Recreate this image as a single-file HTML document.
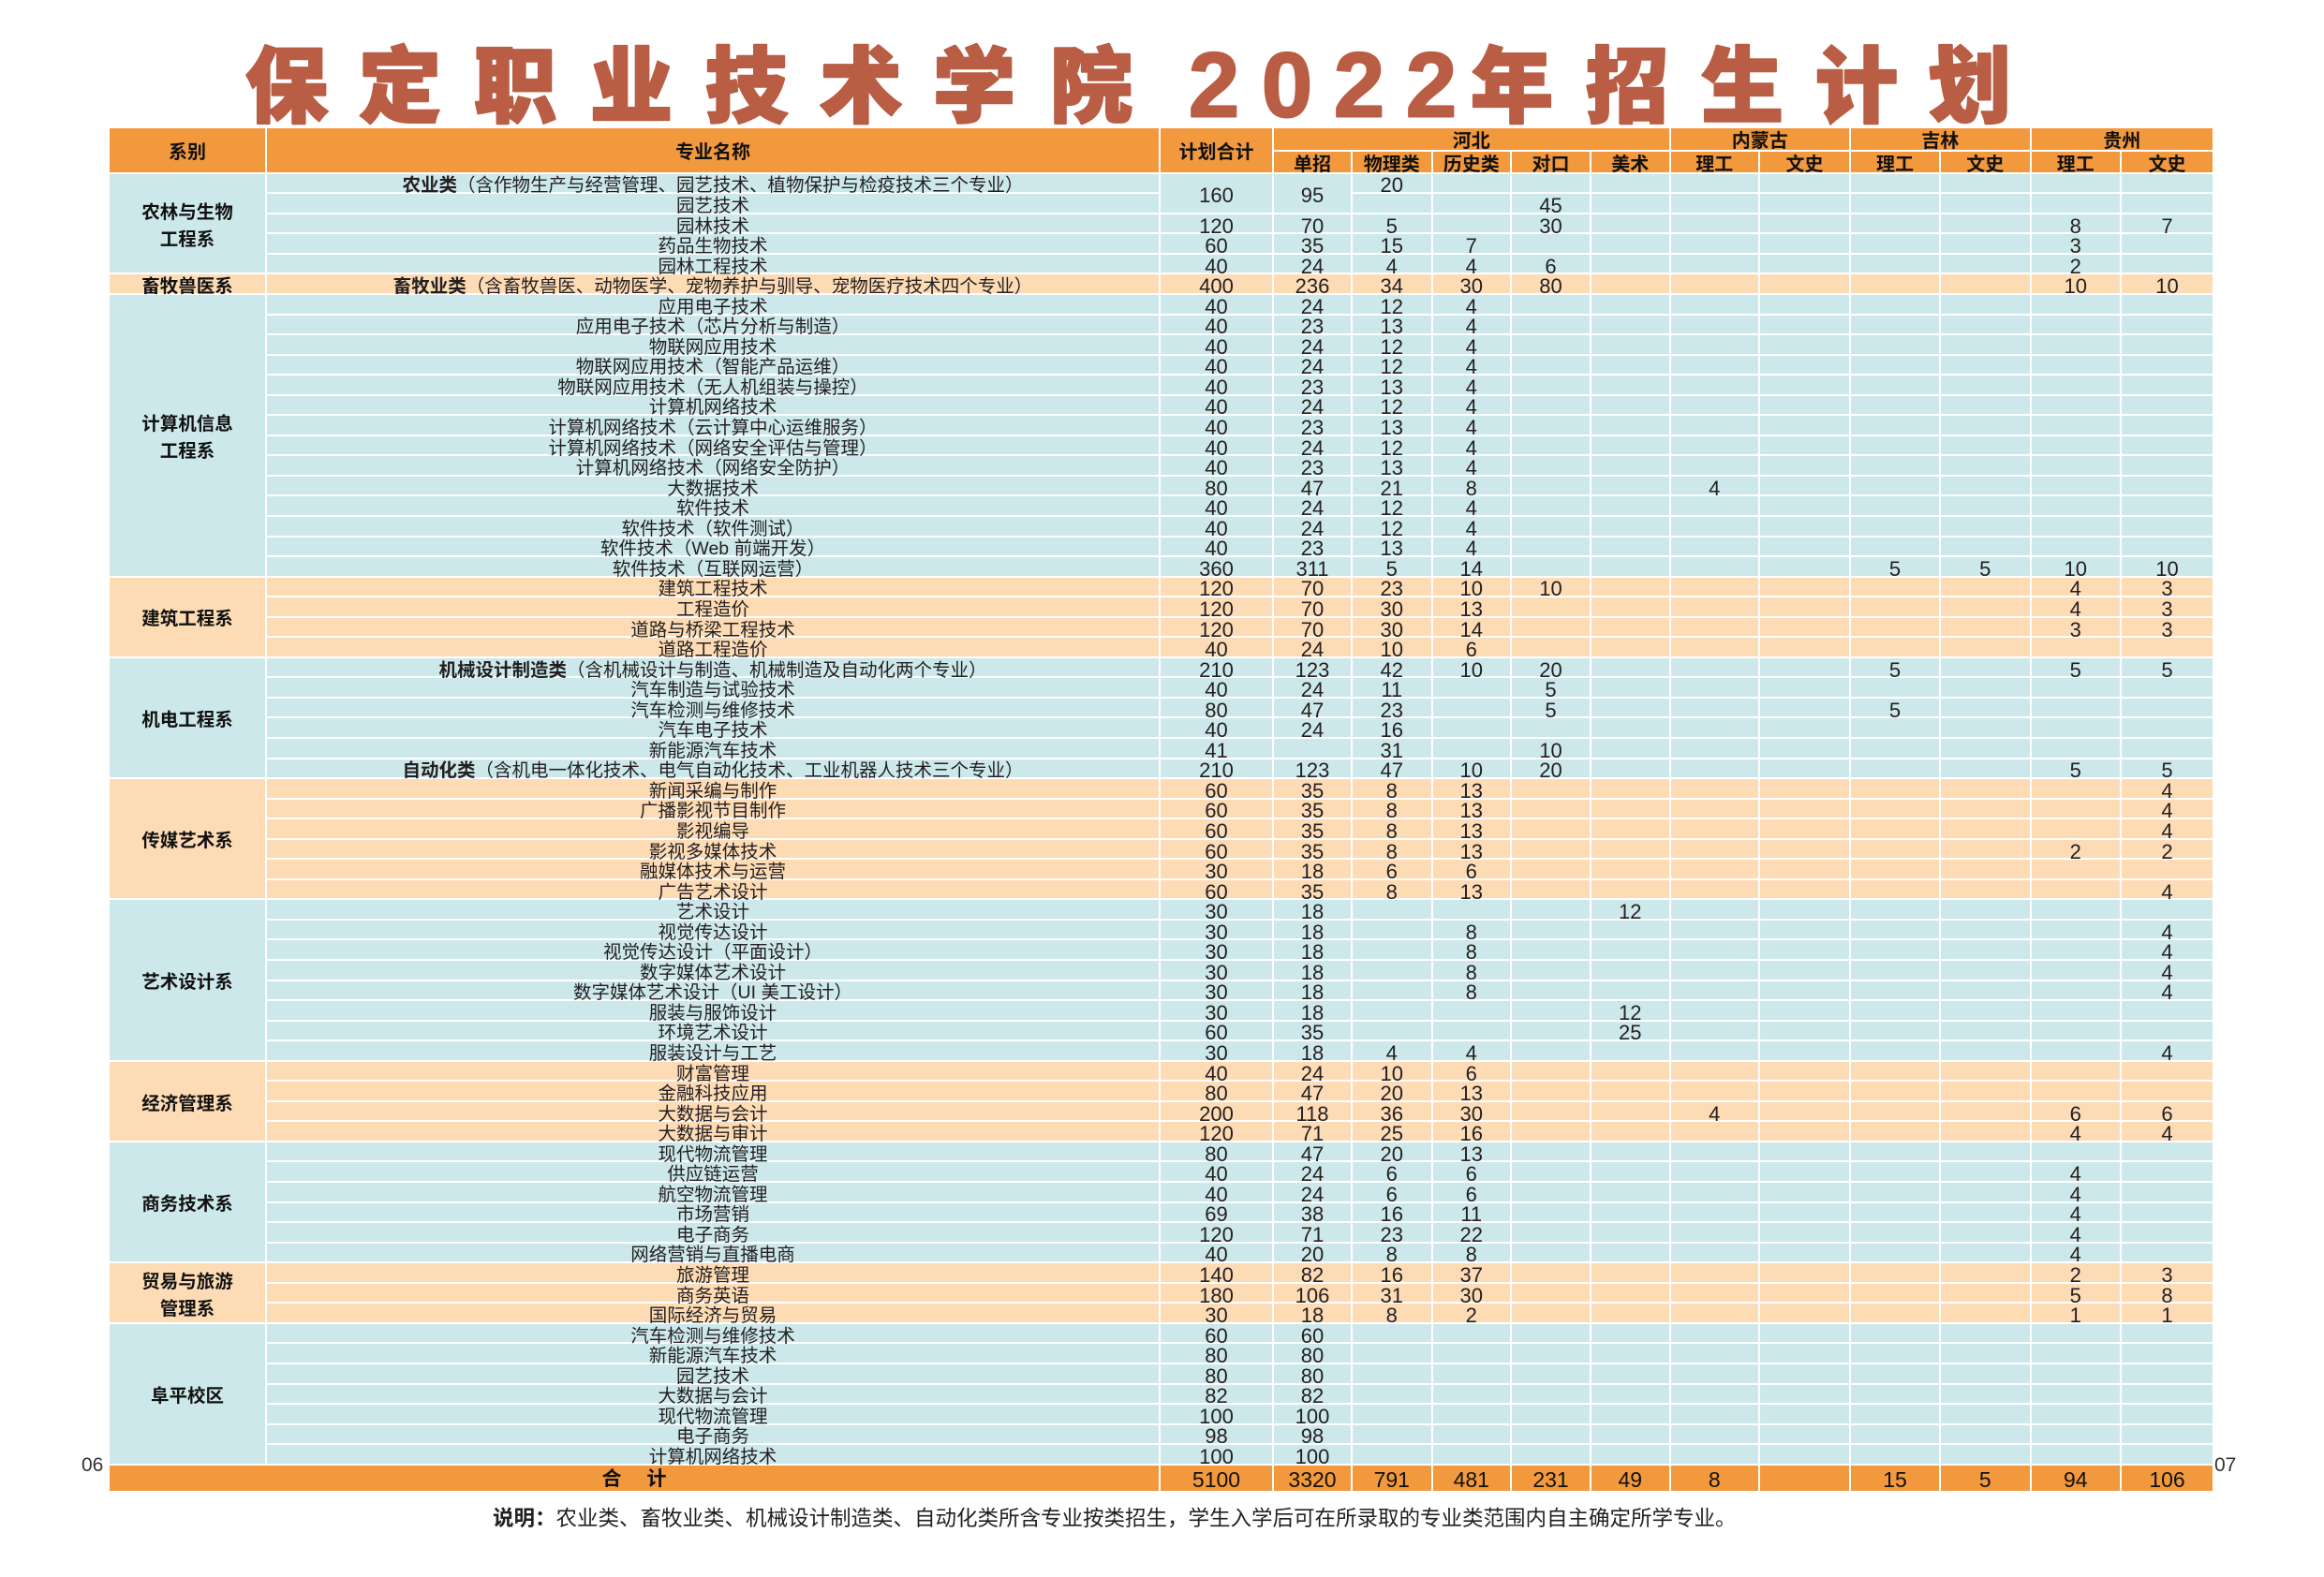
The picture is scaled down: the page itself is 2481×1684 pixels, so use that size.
<!DOCTYPE html>
<html lang="zh-CN">
<head>
<meta charset="utf-8">
<style>
html,body{margin:0;padding:0;background:#fff;}
body{width:2481px;height:1684px;position:relative;overflow:hidden;font-family:"Liberation Sans","Noto Sans CJK SC",sans-serif;color:#231f20;}
.g{position:absolute;left:117px;top:137.3px;width:2245px;display:grid;
grid-template-columns:166px 952px 119px 82px 83.5px 82.5px 83px 82.5px 93.5px 95px 94px 94.5px 94.5px 97px;
grid-template-rows:22.3px 22.1px repeat(64,19.56px) 27.8px;gap:2px;background:#fff;}
.g i{font-style:normal;display:flex;align-items:center;justify-content:center;font-size:22px;line-height:20px;white-space:nowrap;overflow:visible;color:#231f20;box-sizing:border-box;padding-top:6px;}
.r{display:contents;}
.r>i:first-child{font-size:19.5px;font-family:"Liberation Sans","Noto Sans CJK SC",sans-serif;}
.r b{font-weight:bold;}
.b>i{background:#CDE8EA;}
.p>i{background:#FCDBB5;}
.g i.h{background:#F2983D;font-weight:bold;font-size:20px;color:#111;}
.g i.d{font-weight:bold;font-size:19.5px;line-height:28.5px;text-align:center;color:#111;}
.g i.db{background:#CDE8EA;}
.g i.dp{background:#FCDBB5;}
.t>i{background:#F2983D;font-size:23px;color:#111;padding-top:3px;}
.g i.tt{background:#F2983D;font-weight:bold;font-size:21px;color:#111;padding-top:3px;}
.pg{position:absolute;font-size:21px;line-height:21px;color:#333;}
.note{position:absolute;left:526px;top:1607px;font-size:22.5px;line-height:30px;white-space:nowrap;color:#231f20;font-family:"Liberation Sans","Noto Sans CJK SC",sans-serif;}
</style>
</head>
<body>
<svg width="2481" height="140" style="position:absolute;left:0;top:0" xmlns="http://www.w3.org/2000/svg">
<g fill="#B95E44" stroke="#B95E44" stroke-width="2.5" stroke-linejoin="round" font-family="'Noto Sans CJK SC', sans-serif" font-weight="900" font-size="88" text-anchor="middle">
<text x="306" y="123.5">保</text>
<text x="427" y="123.5">定</text>
<text x="550" y="123.5">职</text>
<text x="674" y="123.5">业</text>
<text x="797" y="123.5">技</text>
<text x="919" y="123.5">术</text>
<text x="1040" y="123.5">学</text>
<text x="1165" y="123.5">院</text>
<text x="1614" y="123.5">年</text>
<text x="1737" y="123.5">招</text>
<text x="1860" y="123.5">生</text>
<text x="1982" y="123.5">计</text>
<text x="2103" y="123.5">划</text>
</g>
<g fill="#B95E44" stroke="#B95E44" stroke-width="2" stroke-linejoin="round" font-family="'Liberation Sans', sans-serif" font-weight="bold" font-size="98" text-anchor="middle">
<text x="1296" y="124.5">2</text>
<text x="1374" y="124.5">0</text>
<text x="1451" y="124.5">2</text>
<text x="1528" y="124.5">2</text>
</g>
</svg>

<div class="g">
<i class="h" style="grid-area:1/1/3/2">系别</i>
<i class="h" style="grid-area:1/2/3/3">专业名称</i>
<i class="h" style="grid-area:1/3/3/4">计划合计</i>
<i class="h" style="grid-area:1/4/2/9">河北</i>
<i class="h" style="grid-area:1/9/2/11">内蒙古</i>
<i class="h" style="grid-area:1/11/2/13">吉林</i>
<i class="h" style="grid-area:1/13/2/15">贵州</i>
<i class="h" style="grid-area:2/4/3/5">单招</i>
<i class="h" style="grid-area:2/5/3/6">物理类</i>
<i class="h" style="grid-area:2/6/3/7">历史类</i>
<i class="h" style="grid-area:2/7/3/8">对口</i>
<i class="h" style="grid-area:2/8/3/9">美术</i>
<i class="h" style="grid-area:2/9/3/10">理工</i>
<i class="h" style="grid-area:2/10/3/11">文史</i>
<i class="h" style="grid-area:2/11/3/12">理工</i>
<i class="h" style="grid-area:2/12/3/13">文史</i>
<i class="h" style="grid-area:2/13/3/14">理工</i>
<i class="h" style="grid-area:2/14/3/15">文史</i>

<i class="d db" style="grid-area:3/1/8/2"><span>农林与生物<br>工程系</span></i>
<i class="d dp" style="grid-area:8/1/9/2"><span>畜牧兽医系</span></i>
<i class="d db" style="grid-area:9/1/23/2"><span>计算机信息<br>工程系</span></i>
<i class="d dp" style="grid-area:23/1/27/2"><span>建筑工程系</span></i>
<i class="d db" style="grid-area:27/1/33/2"><span>机电工程系</span></i>
<i class="d dp" style="grid-area:33/1/39/2"><span>传媒艺术系</span></i>
<i class="d db" style="grid-area:39/1/47/2"><span>艺术设计系</span></i>
<i class="d dp" style="grid-area:47/1/51/2"><span>经济管理系</span></i>
<i class="d db" style="grid-area:51/1/57/2"><span>商务技术系</span></i>
<i class="d dp" style="grid-area:57/1/60/2"><span>贸易与旅游<br>管理系</span></i>
<i class="d db" style="grid-area:60/1/67/2"><span>阜平校区</span></i>

<div class="r b"><i><b>农业类</b>（含作物生产与经营管理、园艺技术、植物保护与检疫技术三个专业）</i><i style="grid-area:3/3/5/4">160</i><i style="grid-area:3/4/5/5">95</i><i>20</i><i></i><i></i><i></i><i></i><i></i><i></i><i></i><i></i><i></i></div>
<div class="r b"><i>园艺技术</i><i></i><i></i><i>45</i><i></i><i></i><i></i><i></i><i></i><i></i><i></i></div>
<div class="r b"><i>园林技术</i><i>120</i><i>70</i><i>5</i><i></i><i>30</i><i></i><i></i><i></i><i></i><i></i><i>8</i><i>7</i></div>
<div class="r b"><i>药品生物技术</i><i>60</i><i>35</i><i>15</i><i>7</i><i></i><i></i><i></i><i></i><i></i><i></i><i>3</i><i></i></div>
<div class="r b"><i>园林工程技术</i><i>40</i><i>24</i><i>4</i><i>4</i><i>6</i><i></i><i></i><i></i><i></i><i></i><i>2</i><i></i></div>
<div class="r p"><i><b>畜牧业类</b>（含畜牧兽医、动物医学、宠物养护与驯导、宠物医疗技术四个专业）</i><i>400</i><i>236</i><i>34</i><i>30</i><i>80</i><i></i><i></i><i></i><i></i><i></i><i>10</i><i>10</i></div>
<div class="r b"><i>应用电子技术</i><i>40</i><i>24</i><i>12</i><i>4</i><i></i><i></i><i></i><i></i><i></i><i></i><i></i><i></i></div>
<div class="r b"><i>应用电子技术（芯片分析与制造）</i><i>40</i><i>23</i><i>13</i><i>4</i><i></i><i></i><i></i><i></i><i></i><i></i><i></i><i></i></div>
<div class="r b"><i>物联网应用技术</i><i>40</i><i>24</i><i>12</i><i>4</i><i></i><i></i><i></i><i></i><i></i><i></i><i></i><i></i></div>
<div class="r b"><i>物联网应用技术（智能产品运维）</i><i>40</i><i>24</i><i>12</i><i>4</i><i></i><i></i><i></i><i></i><i></i><i></i><i></i><i></i></div>
<div class="r b"><i>物联网应用技术（无人机组装与操控）</i><i>40</i><i>23</i><i>13</i><i>4</i><i></i><i></i><i></i><i></i><i></i><i></i><i></i><i></i></div>
<div class="r b"><i>计算机网络技术</i><i>40</i><i>24</i><i>12</i><i>4</i><i></i><i></i><i></i><i></i><i></i><i></i><i></i><i></i></div>
<div class="r b"><i>计算机网络技术（云计算中心运维服务）</i><i>40</i><i>23</i><i>13</i><i>4</i><i></i><i></i><i></i><i></i><i></i><i></i><i></i><i></i></div>
<div class="r b"><i>计算机网络技术（网络安全评估与管理）</i><i>40</i><i>24</i><i>12</i><i>4</i><i></i><i></i><i></i><i></i><i></i><i></i><i></i><i></i></div>
<div class="r b"><i>计算机网络技术（网络安全防护）</i><i>40</i><i>23</i><i>13</i><i>4</i><i></i><i></i><i></i><i></i><i></i><i></i><i></i><i></i></div>
<div class="r b"><i>大数据技术</i><i>80</i><i>47</i><i>21</i><i>8</i><i></i><i></i><i>4</i><i></i><i></i><i></i><i></i><i></i></div>
<div class="r b"><i>软件技术</i><i>40</i><i>24</i><i>12</i><i>4</i><i></i><i></i><i></i><i></i><i></i><i></i><i></i><i></i></div>
<div class="r b"><i>软件技术（软件测试）</i><i>40</i><i>24</i><i>12</i><i>4</i><i></i><i></i><i></i><i></i><i></i><i></i><i></i><i></i></div>
<div class="r b"><i>软件技术（Web 前端开发）</i><i>40</i><i>23</i><i>13</i><i>4</i><i></i><i></i><i></i><i></i><i></i><i></i><i></i><i></i></div>
<div class="r b"><i>软件技术（互联网运营）</i><i>360</i><i>311</i><i>5</i><i>14</i><i></i><i></i><i></i><i></i><i>5</i><i>5</i><i>10</i><i>10</i></div>
<div class="r p"><i>建筑工程技术</i><i>120</i><i>70</i><i>23</i><i>10</i><i>10</i><i></i><i></i><i></i><i></i><i></i><i>4</i><i>3</i></div>
<div class="r p"><i>工程造价</i><i>120</i><i>70</i><i>30</i><i>13</i><i></i><i></i><i></i><i></i><i></i><i></i><i>4</i><i>3</i></div>
<div class="r p"><i>道路与桥梁工程技术</i><i>120</i><i>70</i><i>30</i><i>14</i><i></i><i></i><i></i><i></i><i></i><i></i><i>3</i><i>3</i></div>
<div class="r p"><i>道路工程造价</i><i>40</i><i>24</i><i>10</i><i>6</i><i></i><i></i><i></i><i></i><i></i><i></i><i></i><i></i></div>
<div class="r b"><i><b>机械设计制造类</b>（含机械设计与制造、机械制造及自动化两个专业）</i><i>210</i><i>123</i><i>42</i><i>10</i><i>20</i><i></i><i></i><i></i><i>5</i><i></i><i>5</i><i>5</i></div>
<div class="r b"><i>汽车制造与试验技术</i><i>40</i><i>24</i><i>11</i><i></i><i>5</i><i></i><i></i><i></i><i></i><i></i><i></i><i></i></div>
<div class="r b"><i>汽车检测与维修技术</i><i>80</i><i>47</i><i>23</i><i></i><i>5</i><i></i><i></i><i></i><i>5</i><i></i><i></i><i></i></div>
<div class="r b"><i>汽车电子技术</i><i>40</i><i>24</i><i>16</i><i></i><i></i><i></i><i></i><i></i><i></i><i></i><i></i><i></i></div>
<div class="r b"><i>新能源汽车技术</i><i>41</i><i></i><i>31</i><i></i><i>10</i><i></i><i></i><i></i><i></i><i></i><i></i><i></i></div>
<div class="r b"><i><b>自动化类</b>（含机电一体化技术、电气自动化技术、工业机器人技术三个专业）</i><i>210</i><i>123</i><i>47</i><i>10</i><i>20</i><i></i><i></i><i></i><i></i><i></i><i>5</i><i>5</i></div>
<div class="r p"><i>新闻采编与制作</i><i>60</i><i>35</i><i>8</i><i>13</i><i></i><i></i><i></i><i></i><i></i><i></i><i></i><i>4</i></div>
<div class="r p"><i>广播影视节目制作</i><i>60</i><i>35</i><i>8</i><i>13</i><i></i><i></i><i></i><i></i><i></i><i></i><i></i><i>4</i></div>
<div class="r p"><i>影视编导</i><i>60</i><i>35</i><i>8</i><i>13</i><i></i><i></i><i></i><i></i><i></i><i></i><i></i><i>4</i></div>
<div class="r p"><i>影视多媒体技术</i><i>60</i><i>35</i><i>8</i><i>13</i><i></i><i></i><i></i><i></i><i></i><i></i><i>2</i><i>2</i></div>
<div class="r p"><i>融媒体技术与运营</i><i>30</i><i>18</i><i>6</i><i>6</i><i></i><i></i><i></i><i></i><i></i><i></i><i></i><i></i></div>
<div class="r p"><i>广告艺术设计</i><i>60</i><i>35</i><i>8</i><i>13</i><i></i><i></i><i></i><i></i><i></i><i></i><i></i><i>4</i></div>
<div class="r b"><i>艺术设计</i><i>30</i><i>18</i><i></i><i></i><i></i><i>12</i><i></i><i></i><i></i><i></i><i></i><i></i></div>
<div class="r b"><i>视觉传达设计</i><i>30</i><i>18</i><i></i><i>8</i><i></i><i></i><i></i><i></i><i></i><i></i><i></i><i>4</i></div>
<div class="r b"><i>视觉传达设计（平面设计）</i><i>30</i><i>18</i><i></i><i>8</i><i></i><i></i><i></i><i></i><i></i><i></i><i></i><i>4</i></div>
<div class="r b"><i>数字媒体艺术设计</i><i>30</i><i>18</i><i></i><i>8</i><i></i><i></i><i></i><i></i><i></i><i></i><i></i><i>4</i></div>
<div class="r b"><i>数字媒体艺术设计（UI 美工设计）</i><i>30</i><i>18</i><i></i><i>8</i><i></i><i></i><i></i><i></i><i></i><i></i><i></i><i>4</i></div>
<div class="r b"><i>服装与服饰设计</i><i>30</i><i>18</i><i></i><i></i><i></i><i>12</i><i></i><i></i><i></i><i></i><i></i><i></i></div>
<div class="r b"><i>环境艺术设计</i><i>60</i><i>35</i><i></i><i></i><i></i><i>25</i><i></i><i></i><i></i><i></i><i></i><i></i></div>
<div class="r b"><i>服装设计与工艺</i><i>30</i><i>18</i><i>4</i><i>4</i><i></i><i></i><i></i><i></i><i></i><i></i><i></i><i>4</i></div>
<div class="r p"><i>财富管理</i><i>40</i><i>24</i><i>10</i><i>6</i><i></i><i></i><i></i><i></i><i></i><i></i><i></i><i></i></div>
<div class="r p"><i>金融科技应用</i><i>80</i><i>47</i><i>20</i><i>13</i><i></i><i></i><i></i><i></i><i></i><i></i><i></i><i></i></div>
<div class="r p"><i>大数据与会计</i><i>200</i><i>118</i><i>36</i><i>30</i><i></i><i></i><i>4</i><i></i><i></i><i></i><i>6</i><i>6</i></div>
<div class="r p"><i>大数据与审计</i><i>120</i><i>71</i><i>25</i><i>16</i><i></i><i></i><i></i><i></i><i></i><i></i><i>4</i><i>4</i></div>
<div class="r b"><i>现代物流管理</i><i>80</i><i>47</i><i>20</i><i>13</i><i></i><i></i><i></i><i></i><i></i><i></i><i></i><i></i></div>
<div class="r b"><i>供应链运营</i><i>40</i><i>24</i><i>6</i><i>6</i><i></i><i></i><i></i><i></i><i></i><i></i><i>4</i><i></i></div>
<div class="r b"><i>航空物流管理</i><i>40</i><i>24</i><i>6</i><i>6</i><i></i><i></i><i></i><i></i><i></i><i></i><i>4</i><i></i></div>
<div class="r b"><i>市场营销</i><i>69</i><i>38</i><i>16</i><i>11</i><i></i><i></i><i></i><i></i><i></i><i></i><i>4</i><i></i></div>
<div class="r b"><i>电子商务</i><i>120</i><i>71</i><i>23</i><i>22</i><i></i><i></i><i></i><i></i><i></i><i></i><i>4</i><i></i></div>
<div class="r b"><i>网络营销与直播电商</i><i>40</i><i>20</i><i>8</i><i>8</i><i></i><i></i><i></i><i></i><i></i><i></i><i>4</i><i></i></div>
<div class="r p"><i>旅游管理</i><i>140</i><i>82</i><i>16</i><i>37</i><i></i><i></i><i></i><i></i><i></i><i></i><i>2</i><i>3</i></div>
<div class="r p"><i>商务英语</i><i>180</i><i>106</i><i>31</i><i>30</i><i></i><i></i><i></i><i></i><i></i><i></i><i>5</i><i>8</i></div>
<div class="r p"><i>国际经济与贸易</i><i>30</i><i>18</i><i>8</i><i>2</i><i></i><i></i><i></i><i></i><i></i><i></i><i>1</i><i>1</i></div>
<div class="r b"><i>汽车检测与维修技术</i><i>60</i><i>60</i><i></i><i></i><i></i><i></i><i></i><i></i><i></i><i></i><i></i><i></i></div>
<div class="r b"><i>新能源汽车技术</i><i>80</i><i>80</i><i></i><i></i><i></i><i></i><i></i><i></i><i></i><i></i><i></i><i></i></div>
<div class="r b"><i>园艺技术</i><i>80</i><i>80</i><i></i><i></i><i></i><i></i><i></i><i></i><i></i><i></i><i></i><i></i></div>
<div class="r b"><i>大数据与会计</i><i>82</i><i>82</i><i></i><i></i><i></i><i></i><i></i><i></i><i></i><i></i><i></i><i></i></div>
<div class="r b"><i>现代物流管理</i><i>100</i><i>100</i><i></i><i></i><i></i><i></i><i></i><i></i><i></i><i></i><i></i><i></i></div>
<div class="r b"><i>电子商务</i><i>98</i><i>98</i><i></i><i></i><i></i><i></i><i></i><i></i><i></i><i></i><i></i><i></i></div>
<div class="r b"><i>计算机网络技术</i><i>100</i><i>100</i><i></i><i></i><i></i><i></i><i></i><i></i><i></i><i></i><i></i><i></i></div>

<i class="tt" style="grid-area:67/1/68/3">合<span style="display:inline-block;width:27px"></span>计</i>
<div class="r t"><i style="font-size:23px">5100</i><i>3320</i><i>791</i><i>481</i><i>231</i><i>49</i><i>8</i><i></i><i>15</i><i>5</i><i>94</i><i>106</i></div>
</div>

<div class="pg" style="left:87px;top:1554px;">06</div>
<div class="pg" style="left:2364px;top:1554px;">07</div>

<div class="note"><b>说明：</b>农业类、畜牧业类、机械设计制造类、自动化类所含专业按类招生，学生入学后可在所录取的专业类范围内自主确定所学专业。</div>
</body>
</html>
